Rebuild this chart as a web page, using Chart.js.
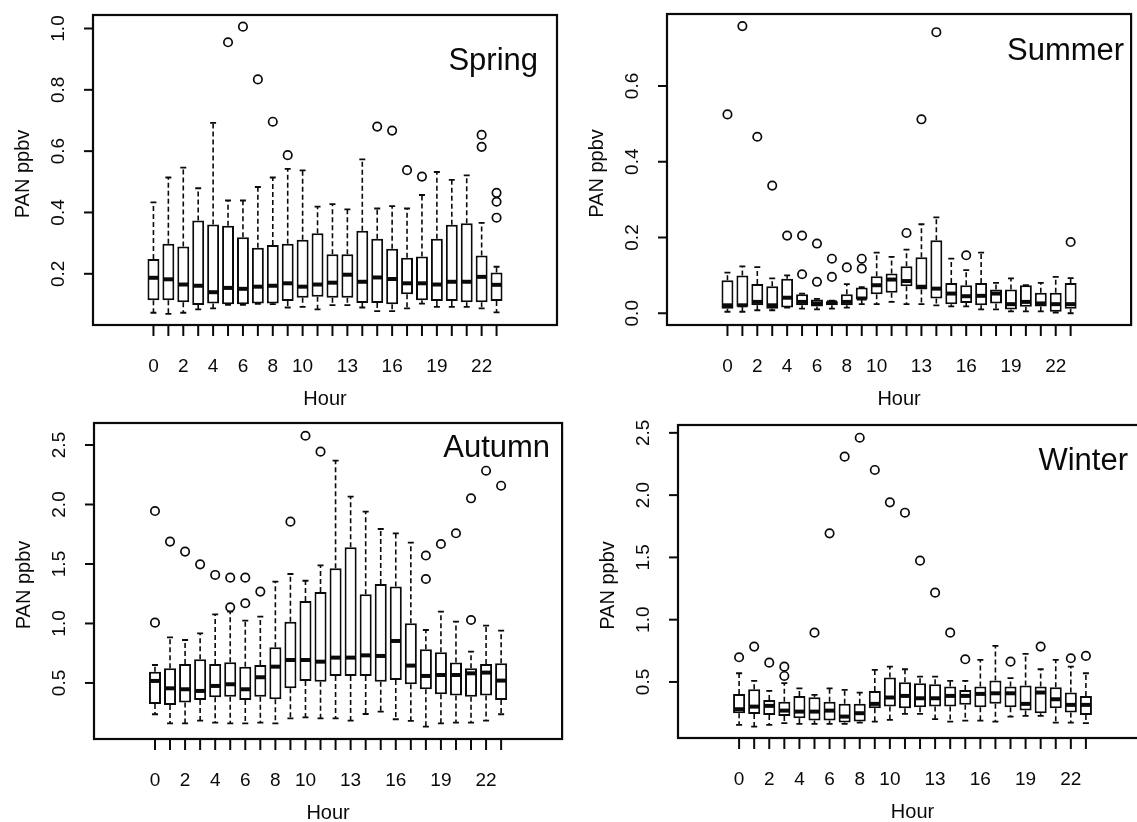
<!DOCTYPE html>
<html>
<head>
<meta charset="utf-8">
<script src="https://cdn.jsdelivr.net/npm/chart.js@4/dist/chart.umd.min.js"></script>
<style>
  html, body { margin: 0; padding: 0; background: #fff; overflow: hidden; }
  .panel { position: absolute; }
</style>
</head>
<body>
<div class="panel" style="left:0;top:0"><canvas id="spring" width="568" height="411"></canvas></div>
<div class="panel" style="left:568px;top:0"><canvas id="summer" width="569" height="411"></canvas></div>
<div class="panel" style="left:0;top:411px"><canvas id="autumn" width="568" height="411"></canvas></div>
<div class="panel" style="left:568px;top:411px"><canvas id="winter" width="600" height="411"></canvas></div>
<script>
const hours = [0, 1, 2, 3, 4, 5, 6, 7, 8, 9, 10, 11, 12, 13, 14, 15, 16, 17, 18, 19, 20, 21, 22, 23];
const hourLabels = [0, 2, 4, 6, 8, 10, 13, 16, 19, 22];

// Spring: whisker ends, quartiles, medians, outliers [hour, value]
const springLow = [0.073, 0.069, 0.073, 0.084, 0.087, 0.099, 0.099, 0.102, 0.101, 0.090, 0.092, 0.084, 0.098, 0.098, 0.090, 0.078, 0.078, 0.087, 0.103, 0.092, 0.092, 0.092, 0.087, 0.074];
const springQ1 = [0.114, 0.114, 0.107, 0.098, 0.103, 0.101, 0.101, 0.103, 0.103, 0.111, 0.122, 0.125, 0.122, 0.122, 0.105, 0.105, 0.101, 0.133, 0.114, 0.111, 0.111, 0.107, 0.107, 0.111];
const springMed = [0.187, 0.182, 0.165, 0.161, 0.140, 0.154, 0.151, 0.158, 0.161, 0.169, 0.158, 0.165, 0.171, 0.197, 0.174, 0.188, 0.183, 0.169, 0.169, 0.165, 0.174, 0.174, 0.190, 0.164];
const springQ3 = [0.248, 0.298, 0.289, 0.374, 0.361, 0.357, 0.319, 0.285, 0.294, 0.298, 0.311, 0.332, 0.264, 0.264, 0.340, 0.314, 0.282, 0.252, 0.256, 0.314, 0.360, 0.365, 0.260, 0.204];
const springHigh = [0.433, 0.514, 0.546, 0.479, 0.692, 0.439, 0.439, 0.483, 0.514, 0.542, 0.537, 0.419, 0.427, 0.410, 0.573, 0.413, 0.421, 0.413, 0.457, 0.532, 0.506, 0.521, 0.366, 0.223];
const springOut = [[5, 0.955], [6, 1.006], [7, 0.834], [8, 0.696], [9, 0.587], [15, 0.680], [16, 0.667], [17, 0.538], [18, 0.517], [22, 0.653], [22, 0.614], [23, 0.464], [23, 0.435], [23, 0.383]];
const springTicks = [0.2, 0.4, 0.6, 0.8, 1.0];

// Summer
const summerLow = [0.004, 0.004, 0.008, 0.008, 0.015, 0.012, 0.010, 0.012, 0.015, 0.024, 0.024, 0.030, 0.024, 0.024, 0.021, 0.018, 0.018, 0.010, 0.010, 0.005, 0.005, 0.005, 0.002, 0.000];
const summerQ1 = [0.012, 0.017, 0.021, 0.012, 0.015, 0.021, 0.018, 0.021, 0.021, 0.036, 0.050, 0.054, 0.071, 0.063, 0.039, 0.024, 0.027, 0.021, 0.026, 0.010, 0.017, 0.018, 0.004, 0.012];
const summerMed = [0.021, 0.021, 0.030, 0.021, 0.041, 0.030, 0.026, 0.029, 0.030, 0.039, 0.074, 0.089, 0.085, 0.070, 0.065, 0.052, 0.045, 0.046, 0.052, 0.024, 0.030, 0.026, 0.024, 0.024];
const summerQ3 = [0.087, 0.100, 0.077, 0.071, 0.091, 0.050, 0.036, 0.032, 0.050, 0.068, 0.098, 0.105, 0.124, 0.148, 0.193, 0.080, 0.074, 0.080, 0.063, 0.063, 0.074, 0.054, 0.054, 0.080];
const summerHigh = [0.107, 0.124, 0.122, 0.092, 0.100, 0.052, 0.038, 0.033, 0.077, 0.069, 0.160, 0.149, 0.168, 0.235, 0.253, 0.144, 0.114, 0.160, 0.080, 0.092, 0.074, 0.080, 0.096, 0.093];
const summerOut = [[0, 0.525], [1, 0.758], [2, 0.466], [3, 0.337], [4, 0.205], [5, 0.205], [5, 0.103], [6, 0.184], [6, 0.083], [7, 0.144], [7, 0.096], [8, 0.121], [9, 0.144], [9, 0.118], [12, 0.212], [13, 0.512], [14, 0.742], [16, 0.153], [23, 0.188]];
const summerTicks = [0.0, 0.2, 0.4, 0.6];

// Autumn
const autumnLow = [0.237, 0.161, 0.161, 0.183, 0.167, 0.161, 0.161, 0.167, 0.161, 0.203, 0.211, 0.203, 0.203, 0.183, 0.239, 0.259, 0.195, 0.181, 0.133, 0.161, 0.167, 0.167, 0.183, 0.237];
const autumnQ1 = [0.324, 0.315, 0.335, 0.357, 0.380, 0.385, 0.357, 0.385, 0.363, 0.455, 0.517, 0.511, 0.559, 0.559, 0.559, 0.511, 0.525, 0.489, 0.447, 0.405, 0.394, 0.385, 0.394, 0.357];
const autumnMed = [0.517, 0.455, 0.447, 0.433, 0.475, 0.489, 0.447, 0.548, 0.637, 0.693, 0.693, 0.679, 0.713, 0.713, 0.732, 0.727, 0.853, 0.646, 0.559, 0.567, 0.567, 0.581, 0.587, 0.520];
const autumnQ3 = [0.595, 0.623, 0.660, 0.699, 0.660, 0.674, 0.637, 0.651, 0.800, 1.015, 1.189, 1.265, 1.464, 1.640, 1.246, 1.332, 1.310, 1.001, 0.783, 0.758, 0.671, 0.623, 0.660, 0.665];
const autumnHigh = [0.651, 0.884, 0.861, 0.917, 1.077, 1.099, 1.024, 1.057, 1.352, 1.416, 1.359, 1.489, 2.368, 2.066, 1.940, 1.794, 1.758, 1.679, 0.945, 1.099, 1.015, 0.763, 0.982, 0.940];
const autumnOut = [[0, 1.945], [0, 1.007], [1, 1.688], [2, 1.604], [3, 1.497], [4, 1.408], [5, 1.385], [5, 1.136], [6, 1.385], [6, 1.170], [7, 1.268], [9, 1.856], [10, 2.578], [11, 2.444], [18, 1.571], [18, 1.374], [19, 1.668], [20, 1.758], [21, 2.052], [21, 1.029], [22, 2.284], [23, 2.158]];
const autumnTicks = [0.5, 1.0, 1.5, 2.0, 2.5];

// Winter
const winterLow = [0.155, 0.142, 0.155, 0.169, 0.163, 0.163, 0.163, 0.163, 0.174, 0.182, 0.195, 0.243, 0.243, 0.201, 0.182, 0.190, 0.190, 0.182, 0.222, 0.227, 0.227, 0.174, 0.174, 0.169];
const winterQ1 = [0.249, 0.243, 0.235, 0.227, 0.209, 0.190, 0.190, 0.174, 0.182, 0.289, 0.302, 0.289, 0.297, 0.302, 0.302, 0.316, 0.297, 0.324, 0.297, 0.270, 0.249, 0.289, 0.254, 0.235];
const winterMed = [0.281, 0.302, 0.308, 0.270, 0.262, 0.262, 0.270, 0.222, 0.249, 0.324, 0.375, 0.388, 0.369, 0.369, 0.388, 0.388, 0.404, 0.409, 0.409, 0.324, 0.415, 0.361, 0.316, 0.316];
const winterQ3 = [0.404, 0.441, 0.356, 0.342, 0.388, 0.377, 0.342, 0.324, 0.324, 0.428, 0.535, 0.498, 0.490, 0.482, 0.463, 0.436, 0.463, 0.511, 0.463, 0.471, 0.463, 0.457, 0.415, 0.388];
const winterHigh = [0.570, 0.508, 0.428, 0.490, 0.449, 0.396, 0.449, 0.436, 0.415, 0.597, 0.623, 0.602, 0.543, 0.543, 0.508, 0.508, 0.677, 0.789, 0.530, 0.725, 0.602, 0.677, 0.623, 0.570];
const winterOut = [[0, 0.698], [1, 0.784], [2, 0.655], [3, 0.623], [3, 0.548], [5, 0.896], [6, 1.693], [7, 2.309], [8, 2.461], [9, 2.202], [10, 1.942], [11, 1.859], [12, 1.474], [13, 1.217], [14, 0.896], [15, 0.682], [18, 0.663], [20, 0.784], [22, 0.690], [23, 0.709]];
const winterTicks = [0.5, 1.0, 1.5, 2.0, 2.5];

const FONT = '"Liberation Sans", Arial, Helvetica, sans-serif';
const INK = "#0a0a0a";

Chart.defaults.font.family = FONT;

// draws the R style whiskers, medians, frame and axes using the chart scales
const boxplotPlugin = {
  id: "rBoxplot",
  beforeDatasetsDraw(chart, args, opts) {
    const ctx = chart.ctx;
    const x = chart.scales.x, y = chart.scales.y;
    const capHalf = x.getPixelForValue(0.2) - x.getPixelForValue(0);
    ctx.save();
    ctx.strokeStyle = INK;
    ctx.lineWidth = 1.6;
    hours.forEach((h, i) => {
      const px = x.getPixelForValue(h);
      ctx.setLineDash([5, 3]);
      ctx.beginPath();
      ctx.moveTo(px, y.getPixelForValue(opts.q3[i]));
      ctx.lineTo(px, y.getPixelForValue(opts.high[i]));
      ctx.moveTo(px, y.getPixelForValue(opts.q1[i]));
      ctx.lineTo(px, y.getPixelForValue(opts.low[i]));
      ctx.stroke();
      ctx.setLineDash([]);
      ctx.lineWidth = 1.8;
      ctx.beginPath();
      ctx.moveTo(px - capHalf, y.getPixelForValue(opts.high[i]));
      ctx.lineTo(px + capHalf, y.getPixelForValue(opts.high[i]));
      ctx.moveTo(px - capHalf, y.getPixelForValue(opts.low[i]));
      ctx.lineTo(px + capHalf, y.getPixelForValue(opts.low[i]));
      ctx.stroke();
      ctx.lineWidth = 1.6;
    });
    ctx.restore();
  },
  afterDatasetsDraw(chart, args, opts) {
    const ctx = chart.ctx;
    const x = chart.scales.x, y = chart.scales.y;
    const { left, right, top, bottom } = chart.chartArea;
    const boxHalf = x.getPixelForValue(0.4) - x.getPixelForValue(0);
    ctx.save();
    ctx.strokeStyle = INK;
    ctx.fillStyle = INK;

    // medians
    ctx.lineWidth = 4;
    hours.forEach((h, i) => {
      const px = x.getPixelForValue(h);
      const py = y.getPixelForValue(opts.med[i]);
      ctx.beginPath();
      ctx.moveTo(px - boxHalf + 1, py);
      ctx.lineTo(px + boxHalf - 1, py);
      ctx.stroke();
    });

    // frame
    ctx.lineWidth = 2.2;
    ctx.strokeRect(left, top, right - left, bottom - top);

    // x axis ticks and labels
    ctx.lineWidth = 2;
    ctx.font = "19px " + FONT;
    ctx.textAlign = "center";
    ctx.textBaseline = "middle";
    hours.forEach((h) => {
      const px = x.getPixelForValue(h);
      ctx.beginPath();
      ctx.moveTo(px, bottom);
      ctx.lineTo(px, bottom + 11);
      ctx.stroke();
      if (hourLabels.includes(h)) ctx.fillText(String(h), px, bottom + 42);
    });

    // y axis ticks and rotated labels
    opts.ticks.forEach((v) => {
      const py = y.getPixelForValue(v);
      ctx.beginPath();
      ctx.moveTo(left - 9, py);
      ctx.lineTo(left, py);
      ctx.stroke();
      ctx.save();
      ctx.translate(left - 34, py);
      ctx.rotate(-Math.PI / 2);
      ctx.fillText(v.toFixed(1), 0, 0);
      ctx.restore();
    });

    // axis titles
    ctx.font = "20px " + FONT;
    ctx.fillText("Hour", (left + right) / 2, bottom + 74);
    ctx.save();
    ctx.translate(left - 70, (top + bottom) / 2 + 4);
    ctx.rotate(-Math.PI / 2);
    ctx.fillText("PAN ppbv", 0, 0);
    ctx.restore();

    // season name
    ctx.font = "31px " + FONT;
    ctx.textAlign = "right";
    ctx.textBaseline = "alphabetic";
    ctx.fillText(opts.title, right - opts.titleRight, top + opts.titleDown);
    ctx.restore();
  },
};

function drawSeason(id, season, pad, yMin, yMax, titleRight, titleDown) {
  const ctx = document.getElementById(id).getContext("2d");
  return new Chart(ctx, {
    type: "bar",
    data: {
      datasets: [
        {
          type: "bar",
          data: hours.map((h, i) => ({ x: h, y: [season.q1[i], season.q3[i]] })),
          backgroundColor: "#ffffff",
          borderColor: INK,
          borderWidth: 2,
          borderSkipped: false,
          barPercentage: 0.8,
          categoryPercentage: 1.0,
        },
        {
          type: "scatter",
          data: season.out.map((p) => ({ x: p[0], y: p[1] })),
          pointStyle: "circle",
          pointRadius: 4.2,
          pointBorderWidth: 1.7,
          pointBorderColor: INK,
          pointBackgroundColor: "rgba(0,0,0,0)",
        },
      ],
    },
    options: {
      responsive: false,
      animation: false,
      devicePixelRatio: 1,
      layout: { padding: pad },
      scales: {
        x: { type: "linear", min: -1.46, max: 24.46, display: false },
        y: { type: "linear", min: yMin, max: yMax, display: false },
      },
      plugins: {
        legend: { display: false },
        tooltip: { enabled: false },
        rBoxplot: Object.assign({ title: season.name, titleRight: titleRight, titleDown: titleDown }, season),
      },
    },
    plugins: [boxplotPlugin],
  });
}

drawSeason("spring",
  { name: "Spring", low: springLow, q1: springQ1, med: springMed, q3: springQ3, high: springHigh, out: springOut, ticks: springTicks },
  { left: 93, top: 15, right: 11, bottom: 86 }, 0.033, 1.044, 19, 55);

drawSeason("summer",
  { name: "Summer", low: summerLow, q1: summerQ1, med: summerMed, q3: summerQ3, high: summerHigh, out: summerOut, ticks: summerTicks },
  { left: 99, top: 14, right: 3, bottom: 86 }, -0.031, 0.790, 7, 46);

drawSeason("autumn",
  { name: "Autumn", low: autumnLow, q1: autumnQ1, med: autumnMed, q3: autumnQ3, high: autumnHigh, out: autumnOut, ticks: autumnTicks },
  { left: 94, top: 12, right: 1, bottom: 83 }, 0.029, 2.685, 12, 34);

drawSeason("winter",
  { name: "Winter", low: winterLow, q1: winterQ1, med: winterMed, q3: winterQ3, high: winterHigh, out: winterOut, ticks: winterTicks },
  { left: 110, top: 14, right: 21, bottom: 84 }, 0.05, 2.563, 19, 45);
</script>
</body>
</html>
